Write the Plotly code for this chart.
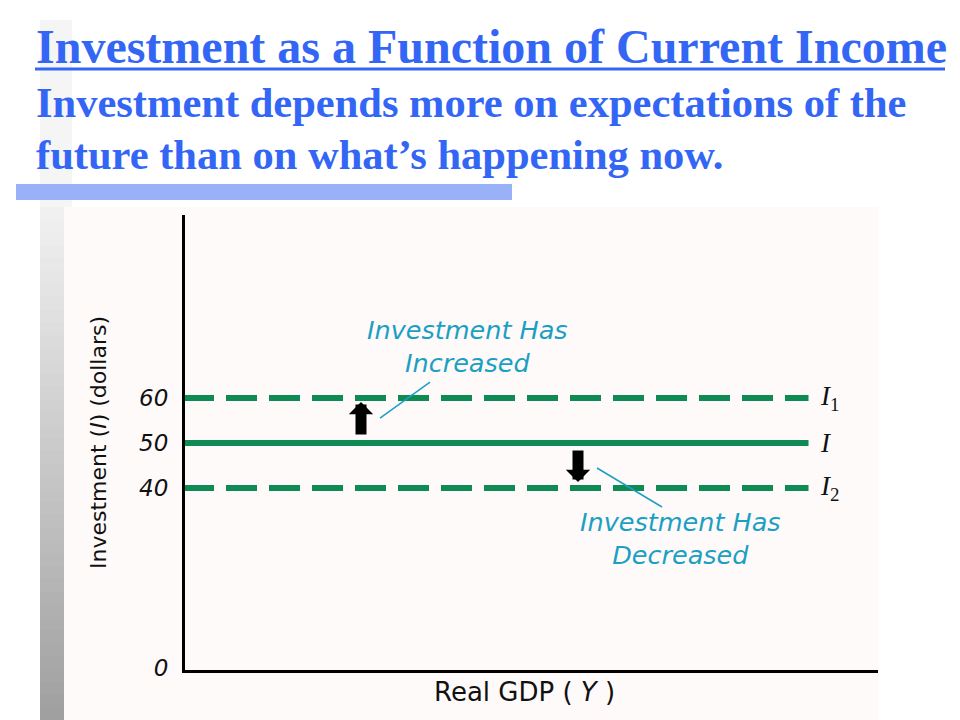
import plotly.graph_objects as go

# ---- data ----
levels = [60, 50, 40]
level_names = ["I1", "I", "I2"]
level_labels = ["<i>I</i><sub>1</sub>", "<i>I</i>", "<i>I</i><sub>2</sub>"]
level_dash = ["31px,12px", "solid", "31px,12px"]
x_start, x_end = 0, 90
ytick_vals = [0, 40, 50, 60]
ytick_text = ["<i>0</i>", "<i>40</i>", "<i>50</i>", "<i>60</i>"]

# page geometry: body margin offset and vertical capture scale
OFF = 8
S = 0.985
W = 960 - 2 * OFF
H = int(round(720 / S)) - OFF
GREEN = "#0E8A55"
TEAL = "#1BA0C2"
BLUE = "#3366F5"


def PX(p):
    return (p - OFF) / W


def PY(p):
    return 1 - (p / S - OFF) / H


fig = go.Figure()
for lv, nm, ds in zip(levels, level_names, level_dash):
    fig.add_trace(go.Scatter(x=[x_start, x_end], y=[lv, lv], mode="lines", name=nm,
                             line=dict(color=GREEN, width=6, dash=ds), hoverinfo="skip",
                             showlegend=False))

# scale: data 0 at these reference px, px per unit
X_ORIGIN, X_PPU = 183, 6.95
Y_ORIGIN, Y_PPU = 668, 4.5


def px_x(p):
    return (p - X_ORIGIN) / X_PPU


def px_y(p):
    return (Y_ORIGIN - p) / Y_PPU


# plot box (reference px)
box_l, box_r, box_b, box_t = 185, 878, 670, 215
xr = [px_x(box_l), px_x(box_r)]
yr = [px_y(box_b), px_y(box_t)]

shapes = []
# gray gradient vertical bar
n = 40
top, bot = 207, 720
for i in range(n):
    t = i / (n - 1)
    g = int(round(0xF0 + (0xA0 - 0xF0) * t))
    ya = top + (bot - top) * i / n
    yb = top + (bot - top) * (i + 1) / n + 1
    shapes.append(dict(type="rect", xref="paper", yref="paper", x0=PX(40), x1=PX(64),
                       y0=max(PY(yb), 0), y1=PY(ya), fillcolor=f"rgb({g},{g},{g})",
                       line=dict(width=0), layer="below"))
# faint top strip
shapes.append(dict(type="rect", xref="paper", yref="paper", x0=PX(40), x1=PX(72),
                   y0=PY(207), y1=PY(20), fillcolor="#F5F5F5", line=dict(width=0), layer="below"))
# chart panel
shapes.append(dict(type="rect", xref="paper", yref="paper", x0=PX(64), x1=PX(878),
                   y0=0, y1=PY(207), fillcolor="#FFFAFA", line=dict(width=0), layer="below"))
# blue bar
shapes.append(dict(type="rect", xref="paper", yref="paper", x0=PX(16), x1=PX(512),
                   y0=PY(200), y1=PY(184), fillcolor="#99B2F7", line=dict(width=0), layer="below"))
# title underline
shapes.append(dict(type="line", xref="paper", yref="paper", x0=PX(35), x1=PX(945),
                   y0=PY(69), y1=PY(69), line=dict(color=BLUE, width=3)))
# leader lines
shapes.append(dict(type="line", xref="x", yref="y", x0=px_x(380), y0=px_y(418), x1=px_x(430), y1=px_y(382),
                   line=dict(color=TEAL, width=1.5)))
shapes.append(dict(type="line", xref="x", yref="y", x0=px_x(597), y0=px_y(468), x1=px_x(662), y1=px_y(507),
                   line=dict(color=TEAL, width=1.5)))

ann = []
serif = "Liberation Serif"
sans = "DejaVu Sans"
ann.append(dict(xref="paper", yref="paper", x=PX(34), y=PY(46), xanchor="left", yanchor="middle",
                text="<b>Investment as a Function of Current Income</b>", showarrow=False,
                font=dict(family=serif, size=48, color=BLUE)))
ann.append(dict(xref="paper", yref="paper", x=PX(34), y=PY(102), xanchor="left", yanchor="middle",
                text="<b>Investment depends more on expectations of the</b>", showarrow=False,
                font=dict(family=serif, size=42.5, color=BLUE)))
ann.append(dict(xref="paper", yref="paper", x=PX(34), y=PY(154), xanchor="left", yanchor="middle",
                text="<b>future than on what’s happening now.</b>", showarrow=False,
                font=dict(family=serif, size=42.5, color=BLUE)))

# line labels
for lv, lb in zip(levels, level_labels):
    ann.append(dict(x=px_x(818), y=lv, xanchor="left", yanchor="middle", text=lb, showarrow=False,
                    font=dict(family=serif, size=27, color="#111111")))

# callout texts
for txt, cx, cy in [("Investment Has<br>Increased", 467, 346),
                    ("Investment Has<br>Decreased", 680, 538)]:
    ann.append(dict(x=px_x(cx), y=px_y(cy), xanchor="center", yanchor="middle", text=f"<i>{txt}</i>",
                    showarrow=False, align="center", font=dict(family=sans, size=25.5, color=TEAL)))

# arrows
ann.append(dict(x=px_x(361), y=px_y(402), ax=px_x(361), ay=px_y(436), xref="x", yref="y", axref="x", ayref="y",
                text="", showarrow=True, arrowhead=1, arrowsize=0.37, arrowwidth=11, arrowcolor="#000000"))
ann.append(dict(x=px_x(578), y=px_y(482), ax=px_x(578), ay=px_y(449), xref="x", yref="y", axref="x", ayref="y",
                text="", showarrow=True, arrowhead=1, arrowsize=0.37, arrowwidth=11, arrowcolor="#000000"))

# axis titles
ann.append(dict(xref="paper", yref="paper", x=PX(98), y=PY(443), textangle=-90, xanchor="center",
                yanchor="middle", text="Investment (<i>I</i>) (dollars)", showarrow=False,
                font=dict(family=sans, size=22, color="#111111")))
ann.append(dict(xref="paper", yref="paper", x=PX(524), y=PY(692), xanchor="center", yanchor="middle",
                text="Real GDP ( <i>Y</i> )", showarrow=False, font=dict(family=sans, size=26, color="#111111")))

fig.update_layout(
    width=W, height=H, margin=dict(l=0, r=0, t=0, b=0),
    paper_bgcolor="white", plot_bgcolor="rgba(0,0,0,0)",
    shapes=shapes, annotations=ann, showlegend=False,
    xaxis=dict(domain=[PX(box_l), PX(box_r)], range=xr, showgrid=False, zeroline=False,
               showticklabels=False, ticks="", showline=True, linecolor="#000000", linewidth=3),
    yaxis=dict(domain=[PY(box_b), PY(box_t)], range=yr, showgrid=False, zeroline=False,
               tickvals=ytick_vals, ticktext=ytick_text, ticks="", ticklabelstandoff=9,
               tickfont=dict(family=sans, size=23, color="#111111"),
               showline=True, linecolor="#000000", linewidth=3),
)

fig.write_html("out.html")
